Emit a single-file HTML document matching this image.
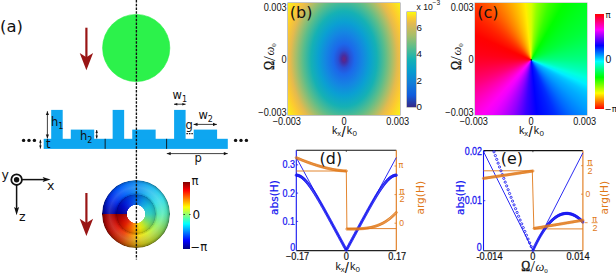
<!DOCTYPE html>
<html><head><meta charset="utf-8"><title>figure</title>
<style>
html,body{margin:0;padding:0;background:#fff}
#fig{position:relative;width:616px;height:274px;overflow:hidden;background:#fff}
#fig div{position:absolute}
#hb{left:288px;top:3px;width:112px;height:112px;background:radial-gradient(ellipse 70px 101.5px at 50% 50%, rgb(105,35,128) 0%, rgb(72,44,158) 3.57%, rgb(42,78,212) 8.57%, rgb(28,104,234) 15%, rgb(20,134,226) 26.43%, rgb(10,160,210) 36.43%, rgb(21,177,180) 47.14%, rgb(89,189,140) 58.57%, rgb(165,190,107) 68.57%, rgb(228,186,78) 76.43%, rgb(252,200,50) 84.29%, rgb(249,251,14) 100%);box-shadow:0 0 0 0.5px rgba(60,60,60,.6)}
#hc{left:475px;top:3px;width:112px;height:112px;background:conic-gradient(from 0deg at 50.2% 50.8%, rgb(214,255,0) 0deg, rgb(145,255,0) 6deg, rgb(98,255,0) 12deg, rgb(56,255,0) 18deg, rgb(29,255,0) 24deg, rgb(2,255,0) 30deg, rgb(0,255,11) 36deg, rgb(0,255,24) 42deg, rgb(0,255,35) 48deg, rgb(0,255,45) 54deg, rgb(0,255,55) 60deg, rgb(0,255,68) 66deg, rgb(0,255,83) 72deg, rgb(0,255,99) 78deg, rgb(0,255,114) 84deg, rgb(0,255,132) 90deg, rgb(0,255,159) 96deg, rgb(0,255,186) 102deg, rgb(0,255,224) 108deg, rgb(0,238,255) 114deg, rgb(0,199,255) 120deg, rgb(0,175,255) 126deg, rgb(0,156,255) 132deg, rgb(0,133,255) 138deg, rgb(0,108,255) 144deg, rgb(0,78,255) 150deg, rgb(0,47,255) 156deg, rgb(0,28,255) 162deg, rgb(0,14,255) 168deg, rgb(0,0,255) 174deg, rgb(29,0,255) 180deg, rgb(59,0,255) 186deg, rgb(103,0,255) 192deg, rgb(145,0,255) 198deg, rgb(179,0,255) 204deg, rgb(212,0,255) 210deg, rgb(239,0,255) 216deg, rgb(255,0,244) 222deg, rgb(255,0,217) 228deg, rgb(255,0,187) 234deg, rgb(255,0,157) 240deg, rgb(255,0,126) 246deg, rgb(255,0,100) 252deg, rgb(255,0,78) 258deg, rgb(255,0,56) 264deg, rgb(255,0,38) 270deg, rgb(255,0,23) 276deg, rgb(255,0,14) 282deg, rgb(255,0,6) 288deg, rgb(255,2,0) 294deg, rgb(255,16,0) 300deg, rgb(255,30,0) 306deg, rgb(255,48,0) 312deg, rgb(255,70,0) 318deg, rgb(255,96,0) 324deg, rgb(255,123,0) 330deg, rgb(255,150,0) 336deg, rgb(255,178,0) 342deg, rgb(255,206,0) 348deg, rgb(255,239,0) 354deg, rgb(214,255,0) 360deg);box-shadow:0 0 0 0.5px rgba(60,60,60,.4)}
#cbb{left:407.2px;top:12px;width:8.8px;height:95px;background:linear-gradient(to top, rgb(53,42,135) 0%, rgb(15,92,221) 12.5%, rgb(18,125,216) 25%, rgb(7,156,207) 37.5%, rgb(21,177,180) 50%, rgb(89,189,140) 62.5%, rgb(165,190,107) 75%, rgb(225,185,82) 87.5%, rgb(252,206,46) 94%, rgb(249,251,14) 100%);box-shadow:0 0 0 0.5px rgba(60,60,60,.6)}
#cbc{left:595px;top:14px;width:8.6px;height:95px;background:linear-gradient(to bottom, rgb(255,0,0) 0%, rgb(255,0,127) 8.33%, rgb(255,0,255) 16.67%, rgb(127,0,255) 25%, rgb(0,0,255) 33.33%, rgb(0,127,255) 41.67%, rgb(0,255,255) 50%, rgb(0,255,127) 58.33%, rgb(0,255,0) 66.67%, rgb(127,255,0) 75%, rgb(255,254,0) 83.33%, rgb(255,127,0) 91.67%, rgb(255,0,0) 100%)}
#cba{left:183.2px;top:182.3px;width:7px;height:66.6px;background:linear-gradient(to bottom, rgb(128,0,0) 0%, rgb(255,0,0) 12.5%, rgb(255,255,0) 37.5%, rgb(0,255,255) 62.5%, rgb(0,0,255) 87.5%, rgb(0,0,128) 100%)}
#tor{left:102.3px;top:180.2px;width:67.6px;height:67.6px;border-radius:50%;
 background:
  radial-gradient(circle 40px at 50% 40%, rgba(0,0,0,0) 70%, rgba(0,0,0,.28) 100%),
  radial-gradient(circle closest-side, rgba(0,0,0,0) 0%, rgba(0,0,0,0) 58%, rgba(0,0,0,.12) 60%, rgba(255,255,255,.03) 64%, rgba(255,255,255,.14) 78%, rgba(255,255,255,.02) 90%, rgba(0,0,0,.15) 96%, rgba(0,0,0,.4) 100%),
  conic-gradient(from 270deg at 50% 50%, rgb(0,0,160) 0deg, rgb(0,40,230) 30deg, rgb(0,95,250) 60deg, rgb(20,140,240) 90deg, rgb(35,185,240) 120deg, rgb(55,220,230) 150deg, rgb(85,235,185) 180deg, rgb(150,240,100) 210deg, rgb(215,240,45) 240deg, rgb(245,228,25) 260deg, rgb(252,190,15) 270deg, rgb(250,130,10) 285deg, rgb(240,70,10) 300deg, rgb(222,25,8) 322deg, rgb(190,8,5) 345deg, rgb(160,0,0) 360deg);
 -webkit-mask:radial-gradient(circle closest-side, transparent 26.6%, #000 28%);mask:radial-gradient(circle closest-side, transparent 26.6%, #000 28%)}
#tori{left:115.8px;top:193.7px;width:40.6px;height:40.6px;border-radius:50%;
 background:
  radial-gradient(circle closest-side, rgba(0,0,0,0) 0%, rgba(0,0,0,0) 45%, rgba(255,255,255,.06) 50%, rgba(0,0,0,.0) 75%, rgba(0,0,0,.10) 92%, rgba(0,0,0,.28) 100%),
  conic-gradient(from 270deg at 50% 50%, rgb(0,0,150) 0deg, rgb(0,10,200) 30deg, rgb(0,50,225) 60deg, rgb(0,95,225) 90deg, rgb(10,150,225) 120deg, rgb(25,190,215) 150deg, rgb(50,205,190) 180deg, rgb(110,220,110) 210deg, rgb(200,230,30) 240deg, rgb(240,225,10) 255deg, rgb(250,170,0) 270deg, rgb(245,100,0) 290deg, rgb(225,30,0) 315deg, rgb(190,5,0) 340deg, rgb(150,0,0) 360deg);
 -webkit-mask:radial-gradient(circle closest-side, transparent 44.5%, #000 47%);mask:radial-gradient(circle closest-side, transparent 44.5%, #000 47%)}
svg{position:absolute;left:0;top:0}
</style></head><body>
<div id="fig">
<div id="hb"></div><div id="hc"></div><div id="cbb"></div><div id="cbc"></div><div id="cba"></div><div id="tor"></div><div id="tori"></div>
<svg width="616" height="274" viewBox="0 0 616 274">
<circle cx="136.2" cy="48" r="33.6" fill="#2cf24b" stroke="#22ee40" stroke-width="0.6"/>
<line x1="86.4" y1="27.7" x2="86.4" y2="58.3" stroke="#991515" stroke-width="2.2"/>
<path d="M86.4 70.3 L79.7 53.1 L86.4 57.3 L93.1 53.1 Z" fill="#991515"/>
<line x1="86.4" y1="193" x2="86.4" y2="224" stroke="#991515" stroke-width="2.2"/>
<path d="M86.4 236 L79.7 218.8 L86.4 223 L93.1 218.8 Z" fill="#991515"/>
<rect x="43.7" y="138.8" width="184.1" height="10.1" fill="#0ea6f0"/>
<rect x="51.2" y="109.9" width="11.5" height="30" fill="#0ea6f0"/>
<rect x="70.8" y="129.6" width="23.4" height="10" fill="#0ea6f0"/>
<rect x="112.65" y="109.9" width="11.5" height="30" fill="#0ea6f0"/>
<rect x="132.25" y="129.6" width="23.4" height="10" fill="#0ea6f0"/>
<rect x="174.1" y="109.9" width="11.5" height="30" fill="#0ea6f0"/>
<rect x="193.7" y="129.6" width="23.4" height="10" fill="#0ea6f0"/>
<line x1="105.15" y1="138.8" x2="105.15" y2="148.9" stroke="#111" stroke-width="0.9"/>
<line x1="166.6" y1="138.8" x2="166.6" y2="148.9" stroke="#111" stroke-width="0.9"/>
<line x1="136.4" y1="0" x2="136.4" y2="259.6" stroke="#111" stroke-width="1.35" stroke-dasharray="2.4 1.35"/>
<line x1="47.4" y1="111.2" x2="47.4" y2="138.4" stroke="#111" stroke-width="0.8"/>
<path d="M47.4 111.2 L48.96 115.1 L45.84 115.1 Z" fill="#111"/>
<path d="M47.4 138.4 L45.84 134.5 L48.96 134.5 Z" fill="#111"/>
<line x1="96.7" y1="130" x2="96.7" y2="138.4" stroke="#111" stroke-width="0.8"/>
<path d="M96.7 130 L97.9 133 L95.5 133 Z" fill="#111"/>
<path d="M96.7 138.4 L95.5 135.4 L97.9 135.4 Z" fill="#111"/>
<line x1="40.4" y1="139.8" x2="40.4" y2="148.6" stroke="#111" stroke-width="0.8"/>
<path d="M40.4 139.8 L41.6 142.8 L39.2 142.8 Z" fill="#111"/>
<path d="M40.4 148.6 L39.2 145.6 L41.6 145.6 Z" fill="#111"/>
<line x1="174" y1="104.2" x2="185.6" y2="104.2" stroke="#111" stroke-width="0.8"/>
<path d="M174 104.2 L177.3 102.88 L177.3 105.52 Z" fill="#111"/>
<path d="M185.6 104.2 L182.3 105.52 L182.3 102.88 Z" fill="#111"/>
<line x1="193.6" y1="124.4" x2="216.9" y2="124.4" stroke="#111" stroke-width="0.8"/>
<path d="M193.6 124.4 L197.5 122.84 L197.5 125.96 Z" fill="#111"/>
<path d="M216.9 124.4 L213 125.96 L213 122.84 Z" fill="#111"/>
<line x1="166.8" y1="153.6" x2="227.7" y2="153.6" stroke="#111" stroke-width="0.8"/>
<path d="M166.8 153.6 L170.7 152.04 L170.7 155.16 Z" fill="#111"/>
<path d="M227.7 153.6 L223.8 155.16 L223.8 152.04 Z" fill="#111"/>
<line x1="186.4" y1="133.7" x2="192.8" y2="133.7" stroke="#111" stroke-width="1.3" stroke-dasharray="1.5 1.0"/>
<circle cx="23.6" cy="140.4" r="1.7" fill="#111"/>
<circle cx="29" cy="140.4" r="1.7" fill="#111"/>
<circle cx="34.4" cy="140.4" r="1.7" fill="#111"/>
<circle cx="235.6" cy="140.4" r="1.7" fill="#111"/>
<circle cx="241" cy="140.4" r="1.7" fill="#111"/>
<circle cx="246.4" cy="140.4" r="1.7" fill="#111"/>
<text x="0" y="32.2" style="font-family:'DejaVu Sans','Liberation Sans',sans-serif;font-size:16.4px" fill="#111" text-anchor="start">(a)</text>
<text x="51" y="125.8" style="font-family:'DejaVu Sans','Liberation Sans',sans-serif;font-size:11.5px" fill="#111" text-anchor="start">h<tspan dy="3" style="font-size:8px">1</tspan></text>
<text x="80" y="140.4" style="font-family:'DejaVu Sans','Liberation Sans',sans-serif;font-size:11.5px" fill="#111" text-anchor="start">h<tspan dy="3" style="font-size:8px">2</tspan></text>
<text x="46" y="148.4" style="font-family:'DejaVu Sans','Liberation Sans',sans-serif;font-size:11.5px" fill="#111" text-anchor="start">t</text>
<text x="172.6" y="99.4" style="font-family:'DejaVu Sans','Liberation Sans',sans-serif;font-size:11.5px" fill="#111" text-anchor="start">w<tspan dy="3" style="font-size:8px">1</tspan></text>
<text x="198.4" y="118.9" style="font-family:'DejaVu Sans','Liberation Sans',sans-serif;font-size:11.5px" fill="#111" text-anchor="start">w<tspan dy="3" style="font-size:8px">2</tspan></text>
<text x="185.6" y="128.6" style="font-family:'DejaVu Sans','Liberation Sans',sans-serif;font-size:11.5px" fill="#111" text-anchor="start">g</text>
<text x="194.6" y="162" style="font-family:'DejaVu Sans','Liberation Sans',sans-serif;font-size:11.5px" fill="#111" text-anchor="start">p</text>
<circle cx="16.6" cy="179.7" r="5.3" fill="none" stroke="#111" stroke-width="1.8"/>
<circle cx="16.6" cy="179.7" r="2.7" fill="#111"/>
<line x1="22" y1="179.6" x2="46" y2="179.6" stroke="#111" stroke-width="1.5"/>
<path d="M50.6 179.6 L42.6 177.1 L44.2 179.6 L42.6 182.1 Z" fill="#111"/>
<line x1="16.6" y1="185" x2="16.6" y2="210" stroke="#111" stroke-width="1.5"/>
<path d="M16.6 215.2 L14.1 207 L16.6 208.6 L19.1 207 Z" fill="#111"/>
<text x="1.6" y="179" style="font-family:'DejaVu Sans','Liberation Sans',sans-serif;font-size:12.5px" fill="#111" text-anchor="start">y</text>
<text x="47" y="190" style="font-family:'DejaVu Sans','Liberation Sans',sans-serif;font-size:12.5px" fill="#111" text-anchor="start">x</text>
<text x="19" y="221.3" style="font-family:'DejaVu Sans','Liberation Sans',sans-serif;font-size:12.5px" fill="#111" text-anchor="start">z</text>
<text x="191.6" y="185" style="font-family:'DejaVu Sans','Liberation Sans',sans-serif;font-size:11.5px" fill="#111" text-anchor="start">π</text>
<text x="192.6" y="219.3" style="font-family:'DejaVu Sans','Liberation Sans',sans-serif;font-size:12px" fill="#111" text-anchor="start">0</text>
<text x="190.6" y="250.6" style="font-family:'DejaVu Sans','Liberation Sans',sans-serif;font-size:11.5px" fill="#111" text-anchor="start">−π</text>
<line x1="183.4" y1="214.5" x2="185" y2="214.5" stroke="#222" stroke-width="0.8"/>
<line x1="189" y1="214.5" x2="190.6" y2="214.5" stroke="#222" stroke-width="0.8"/>
<text transform="translate(286.6,10.7) scale(0.9,1)" style="font-family:'Liberation Sans',sans-serif;font-size:10.2px" fill="#111" text-anchor="end">0.003</text>
<text transform="translate(286.6,62.7) scale(0.9,1)" style="font-family:'Liberation Sans',sans-serif;font-size:10.2px" fill="#111" text-anchor="end">0</text>
<text transform="translate(286.6,115.6) scale(0.9,1)" style="font-family:'Liberation Sans',sans-serif;font-size:10.2px" fill="#111" text-anchor="end">−0.003</text>
<text transform="translate(286.8,124.5) scale(0.9,1)" style="font-family:'Liberation Sans',sans-serif;font-size:10.2px" fill="#111" text-anchor="middle">−0.003</text>
<text transform="translate(344.1,124.5) scale(0.9,1)" style="font-family:'Liberation Sans',sans-serif;font-size:10.2px" fill="#111" text-anchor="middle">0</text>
<text transform="translate(397.7,124.5) scale(0.9,1)" style="font-family:'Liberation Sans',sans-serif;font-size:10.2px" fill="#111" text-anchor="middle">0.003</text>
<text transform="translate(332,133.9) scale(0.95,1)" style="font-family:'Liberation Sans',sans-serif;font-size:11.3px" fill="#111" text-anchor="start">k</text>
<text x="337.3" y="136" style="font-family:'Liberation Sans',sans-serif;font-size:7.6px" fill="#111" text-anchor="start">x</text>
<text x="341.5" y="136.5" style="font-family:'Liberation Sans',sans-serif;font-size:15px" fill="#111" text-anchor="start">/</text>
<text transform="translate(346.8,133.9) scale(0.95,1)" style="font-family:'Liberation Sans',sans-serif;font-size:11.3px" fill="#111" text-anchor="start">k</text>
<text x="352.6" y="136.2" style="font-family:'Liberation Sans',sans-serif;font-size:8px" fill="#111" text-anchor="start">0</text>
<text transform="translate(273.6,69.9) rotate(-90)" style="font-family:'Liberation Serif',serif;font-size:14px" fill="#111"><tspan textLength="9" lengthAdjust="spacingAndGlyphs" stroke="#111" stroke-width="0.35">Ω</tspan><tspan style="font-size:17px" dy="1.6">/</tspan><tspan style="font-style:italic;font-size:12.5px" dy="-1.2" dx="0.6">ω</tspan><tspan dy="1.8" style="font-size:7px">0</tspan></text>
<text transform="translate(473.6,10.7) scale(0.9,1)" style="font-family:'Liberation Sans',sans-serif;font-size:10.2px" fill="#111" text-anchor="end">0.003</text>
<text transform="translate(473.6,62.7) scale(0.9,1)" style="font-family:'Liberation Sans',sans-serif;font-size:10.2px" fill="#111" text-anchor="end">0</text>
<text transform="translate(473.6,115.6) scale(0.9,1)" style="font-family:'Liberation Sans',sans-serif;font-size:10.2px" fill="#111" text-anchor="end">−0.003</text>
<text transform="translate(473.8,124.5) scale(0.9,1)" style="font-family:'Liberation Sans',sans-serif;font-size:10.2px" fill="#111" text-anchor="middle">−0.003</text>
<text transform="translate(531.1,124.5) scale(0.9,1)" style="font-family:'Liberation Sans',sans-serif;font-size:10.2px" fill="#111" text-anchor="middle">0</text>
<text transform="translate(584.7,124.5) scale(0.9,1)" style="font-family:'Liberation Sans',sans-serif;font-size:10.2px" fill="#111" text-anchor="middle">0.003</text>
<text transform="translate(519,133.9) scale(0.95,1)" style="font-family:'Liberation Sans',sans-serif;font-size:11.3px" fill="#111" text-anchor="start">k</text>
<text x="524.3" y="136" style="font-family:'Liberation Sans',sans-serif;font-size:7.6px" fill="#111" text-anchor="start">x</text>
<text x="528.5" y="136.5" style="font-family:'Liberation Sans',sans-serif;font-size:15px" fill="#111" text-anchor="start">/</text>
<text transform="translate(533.8,133.9) scale(0.95,1)" style="font-family:'Liberation Sans',sans-serif;font-size:11.3px" fill="#111" text-anchor="start">k</text>
<text x="539.6" y="136.2" style="font-family:'Liberation Sans',sans-serif;font-size:8px" fill="#111" text-anchor="start">0</text>
<text transform="translate(460.6,69.9) rotate(-90)" style="font-family:'Liberation Serif',serif;font-size:14px" fill="#111"><tspan textLength="9" lengthAdjust="spacingAndGlyphs" stroke="#111" stroke-width="0.35">Ω</tspan><tspan style="font-size:17px" dy="1.6">/</tspan><tspan style="font-style:italic;font-size:12.5px" dy="-1.2" dx="0.6">ω</tspan><tspan dy="1.8" style="font-size:7px">0</tspan></text>
<circle cx="531.3" cy="59.9" r="0.9" fill="#222"/>
<text x="289.8" y="18.3" style="font-family:'DejaVu Sans','Liberation Sans',sans-serif;font-size:16.1px" fill="#111" text-anchor="start">(b)</text>
<text x="477.2" y="18.3" style="font-family:'DejaVu Sans','Liberation Sans',sans-serif;font-size:16.1px" fill="#111" text-anchor="start">(c)</text>
<text x="416.6" y="9.6" style="font-family:'Liberation Sans',sans-serif;font-size:8.6px" fill="#111" text-anchor="start">x 10</text>
<text x="432.6" y="5.1" style="font-family:'Liberation Sans',sans-serif;font-size:6.6px" fill="#111" text-anchor="start">−3</text>
<text x="416.6" y="30.6" style="font-family:'Liberation Sans',sans-serif;font-size:9.8px" fill="#111" text-anchor="start">6</text>
<text x="416.6" y="57.2" style="font-family:'Liberation Sans',sans-serif;font-size:9.8px" fill="#111" text-anchor="start">4</text>
<text x="416.6" y="83.8" style="font-family:'Liberation Sans',sans-serif;font-size:9.8px" fill="#111" text-anchor="start">2</text>
<text x="416.6" y="110.4" style="font-family:'Liberation Sans',sans-serif;font-size:9.8px" fill="#111" text-anchor="start">0</text>
<text x="605.6" y="17.8" style="font-family:'DejaVu Sans','Liberation Sans',sans-serif;font-size:8.5px" fill="#111" text-anchor="start">π</text>
<text x="605.6" y="62.9" style="font-family:'Liberation Sans',sans-serif;font-size:10.4px" fill="#111" text-anchor="start">0</text>
<text x="604.6" y="112.2" style="font-family:'DejaVu Sans','Liberation Sans',sans-serif;font-size:8.5px" fill="#111" text-anchor="start">−π</text>
<line x1="296.3" y1="150.3" x2="396.3" y2="150.3" stroke="#111" stroke-width="1.1"/>
<line x1="296.3" y1="250.6" x2="396.3" y2="250.6" stroke="#222" stroke-width="1.1"/>
<line x1="296.3" y1="150.3" x2="296.3" y2="250.6" stroke="#1414f0" stroke-width="1.1"/>
<line x1="396.3" y1="150.3" x2="396.3" y2="250.6" stroke="#e07818" stroke-width="1.1"/>
<line x1="346.3" y1="150.3" x2="346.3" y2="151.9" stroke="#222" stroke-width="0.8"/>
<path d="M296.3 157.5 L346.3 250.2 L396.3 157.5" fill="none" stroke="#1414f0" stroke-width="0.9"/>
<path d="M296.3 171 L346.3 171 L346.9 228.6 L396.3 228.6" fill="none" stroke="#e07818" stroke-width="0.9"/>
<g fill="none" stroke="#1414f0" stroke-width="0.75">
<circle cx="296.3" cy="175.2" r="1.15"/>
<circle cx="296.97" cy="175.23" r="1.15"/>
<circle cx="297.63" cy="175.33" r="1.15"/>
<circle cx="298.3" cy="175.5" r="1.15"/>
<circle cx="298.97" cy="175.72" r="1.15"/>
<circle cx="299.63" cy="176.01" r="1.15"/>
<circle cx="300.3" cy="176.35" r="1.15"/>
<circle cx="300.97" cy="176.74" r="1.15"/>
<circle cx="301.63" cy="177.19" r="1.15"/>
<circle cx="302.3" cy="177.69" r="1.15"/>
<circle cx="302.97" cy="178.23" r="1.15"/>
<circle cx="303.63" cy="178.82" r="1.15"/>
<circle cx="304.3" cy="179.45" r="1.15"/>
<circle cx="304.97" cy="180.11" r="1.15"/>
<circle cx="305.63" cy="180.82" r="1.15"/>
<circle cx="306.3" cy="181.56" r="1.15"/>
<circle cx="306.97" cy="182.34" r="1.15"/>
<circle cx="307.63" cy="183.15" r="1.15"/>
<circle cx="308.3" cy="183.99" r="1.15"/>
<circle cx="308.97" cy="184.85" r="1.15"/>
<circle cx="309.63" cy="185.75" r="1.15"/>
<circle cx="310.3" cy="186.67" r="1.15"/>
<circle cx="310.97" cy="187.61" r="1.15"/>
<circle cx="311.63" cy="188.58" r="1.15"/>
<circle cx="312.3" cy="189.57" r="1.15"/>
<circle cx="312.97" cy="190.57" r="1.15"/>
<circle cx="313.63" cy="191.6" r="1.15"/>
<circle cx="314.3" cy="192.64" r="1.15"/>
<circle cx="314.97" cy="193.7" r="1.15"/>
<circle cx="315.63" cy="194.78" r="1.15"/>
<circle cx="316.3" cy="195.87" r="1.15"/>
<circle cx="316.97" cy="196.97" r="1.15"/>
<circle cx="317.63" cy="198.08" r="1.15"/>
<circle cx="318.3" cy="199.21" r="1.15"/>
<circle cx="318.97" cy="200.35" r="1.15"/>
<circle cx="319.63" cy="201.49" r="1.15"/>
<circle cx="320.3" cy="202.65" r="1.15"/>
<circle cx="320.97" cy="203.81" r="1.15"/>
<circle cx="321.63" cy="204.98" r="1.15"/>
<circle cx="322.3" cy="206.16" r="1.15"/>
<circle cx="322.97" cy="207.34" r="1.15"/>
<circle cx="323.63" cy="208.53" r="1.15"/>
<circle cx="324.3" cy="209.73" r="1.15"/>
<circle cx="324.97" cy="210.92" r="1.15"/>
<circle cx="325.63" cy="212.13" r="1.15"/>
<circle cx="326.3" cy="213.34" r="1.15"/>
<circle cx="326.97" cy="214.55" r="1.15"/>
<circle cx="327.63" cy="215.76" r="1.15"/>
<circle cx="328.3" cy="216.98" r="1.15"/>
<circle cx="328.97" cy="218.2" r="1.15"/>
<circle cx="329.63" cy="219.42" r="1.15"/>
<circle cx="330.3" cy="220.64" r="1.15"/>
<circle cx="330.97" cy="221.87" r="1.15"/>
<circle cx="331.63" cy="223.09" r="1.15"/>
<circle cx="332.3" cy="224.32" r="1.15"/>
<circle cx="332.97" cy="225.55" r="1.15"/>
<circle cx="333.63" cy="226.78" r="1.15"/>
<circle cx="334.3" cy="228.01" r="1.15"/>
<circle cx="334.97" cy="229.24" r="1.15"/>
<circle cx="335.63" cy="230.47" r="1.15"/>
<circle cx="336.3" cy="231.7" r="1.15"/>
<circle cx="336.97" cy="232.94" r="1.15"/>
<circle cx="337.63" cy="234.17" r="1.15"/>
<circle cx="338.3" cy="235.4" r="1.15"/>
<circle cx="338.97" cy="236.63" r="1.15"/>
<circle cx="339.63" cy="237.87" r="1.15"/>
<circle cx="340.3" cy="239.1" r="1.15"/>
<circle cx="340.97" cy="240.33" r="1.15"/>
<circle cx="341.63" cy="241.57" r="1.15"/>
<circle cx="342.3" cy="242.8" r="1.15"/>
<circle cx="342.97" cy="244.03" r="1.15"/>
<circle cx="343.63" cy="245.27" r="1.15"/>
<circle cx="344.3" cy="246.5" r="1.15"/>
<circle cx="344.97" cy="247.73" r="1.15"/>
<circle cx="345.63" cy="248.97" r="1.15"/>
<circle cx="346.3" cy="250.2" r="1.15"/>
<circle cx="346.97" cy="248.97" r="1.15"/>
<circle cx="347.63" cy="247.73" r="1.15"/>
<circle cx="348.3" cy="246.5" r="1.15"/>
<circle cx="348.97" cy="245.27" r="1.15"/>
<circle cx="349.63" cy="244.03" r="1.15"/>
<circle cx="350.3" cy="242.8" r="1.15"/>
<circle cx="350.97" cy="241.57" r="1.15"/>
<circle cx="351.63" cy="240.33" r="1.15"/>
<circle cx="352.3" cy="239.1" r="1.15"/>
<circle cx="352.97" cy="237.87" r="1.15"/>
<circle cx="353.63" cy="236.63" r="1.15"/>
<circle cx="354.3" cy="235.4" r="1.15"/>
<circle cx="354.97" cy="234.17" r="1.15"/>
<circle cx="355.63" cy="232.94" r="1.15"/>
<circle cx="356.3" cy="231.7" r="1.15"/>
<circle cx="356.97" cy="230.47" r="1.15"/>
<circle cx="357.63" cy="229.24" r="1.15"/>
<circle cx="358.3" cy="228.01" r="1.15"/>
<circle cx="358.97" cy="226.78" r="1.15"/>
<circle cx="359.63" cy="225.55" r="1.15"/>
<circle cx="360.3" cy="224.32" r="1.15"/>
<circle cx="360.97" cy="223.09" r="1.15"/>
<circle cx="361.63" cy="221.87" r="1.15"/>
<circle cx="362.3" cy="220.64" r="1.15"/>
<circle cx="362.97" cy="219.42" r="1.15"/>
<circle cx="363.63" cy="218.2" r="1.15"/>
<circle cx="364.3" cy="216.98" r="1.15"/>
<circle cx="364.97" cy="215.76" r="1.15"/>
<circle cx="365.63" cy="214.55" r="1.15"/>
<circle cx="366.3" cy="213.34" r="1.15"/>
<circle cx="366.97" cy="212.13" r="1.15"/>
<circle cx="367.63" cy="210.92" r="1.15"/>
<circle cx="368.3" cy="209.73" r="1.15"/>
<circle cx="368.97" cy="208.53" r="1.15"/>
<circle cx="369.63" cy="207.34" r="1.15"/>
<circle cx="370.3" cy="206.16" r="1.15"/>
<circle cx="370.97" cy="204.98" r="1.15"/>
<circle cx="371.63" cy="203.81" r="1.15"/>
<circle cx="372.3" cy="202.65" r="1.15"/>
<circle cx="372.97" cy="201.49" r="1.15"/>
<circle cx="373.63" cy="200.35" r="1.15"/>
<circle cx="374.3" cy="199.21" r="1.15"/>
<circle cx="374.97" cy="198.08" r="1.15"/>
<circle cx="375.63" cy="196.97" r="1.15"/>
<circle cx="376.3" cy="195.87" r="1.15"/>
<circle cx="376.97" cy="194.78" r="1.15"/>
<circle cx="377.63" cy="193.7" r="1.15"/>
<circle cx="378.3" cy="192.64" r="1.15"/>
<circle cx="378.97" cy="191.6" r="1.15"/>
<circle cx="379.63" cy="190.57" r="1.15"/>
<circle cx="380.3" cy="189.57" r="1.15"/>
<circle cx="380.97" cy="188.58" r="1.15"/>
<circle cx="381.63" cy="187.61" r="1.15"/>
<circle cx="382.3" cy="186.67" r="1.15"/>
<circle cx="382.97" cy="185.75" r="1.15"/>
<circle cx="383.63" cy="184.85" r="1.15"/>
<circle cx="384.3" cy="183.99" r="1.15"/>
<circle cx="384.97" cy="183.15" r="1.15"/>
<circle cx="385.63" cy="182.34" r="1.15"/>
<circle cx="386.3" cy="181.56" r="1.15"/>
<circle cx="386.97" cy="180.82" r="1.15"/>
<circle cx="387.63" cy="180.11" r="1.15"/>
<circle cx="388.3" cy="179.45" r="1.15"/>
<circle cx="388.97" cy="178.82" r="1.15"/>
<circle cx="389.63" cy="178.23" r="1.15"/>
<circle cx="390.3" cy="177.69" r="1.15"/>
<circle cx="390.97" cy="177.19" r="1.15"/>
<circle cx="391.63" cy="176.74" r="1.15"/>
<circle cx="392.3" cy="176.35" r="1.15"/>
<circle cx="392.97" cy="176.01" r="1.15"/>
<circle cx="393.63" cy="175.72" r="1.15"/>
<circle cx="394.3" cy="175.5" r="1.15"/>
<circle cx="394.97" cy="175.33" r="1.15"/>
<circle cx="395.63" cy="175.23" r="1.15"/>
<circle cx="396.3" cy="175.2" r="1.15"/>
</g>
<g fill="none" stroke="#e07818" stroke-width="0.78">
<circle cx="296.3" cy="157.7" r="1.08"/>
<circle cx="297.41" cy="158.18" r="1.08"/>
<circle cx="298.52" cy="158.64" r="1.08"/>
<circle cx="299.63" cy="159.11" r="1.08"/>
<circle cx="300.74" cy="159.56" r="1.08"/>
<circle cx="301.86" cy="160.01" r="1.08"/>
<circle cx="302.97" cy="160.45" r="1.08"/>
<circle cx="304.08" cy="160.89" r="1.08"/>
<circle cx="305.19" cy="161.31" r="1.08"/>
<circle cx="306.3" cy="161.73" r="1.08"/>
<circle cx="307.41" cy="162.15" r="1.08"/>
<circle cx="308.52" cy="162.55" r="1.08"/>
<circle cx="309.63" cy="162.95" r="1.08"/>
<circle cx="310.74" cy="163.34" r="1.08"/>
<circle cx="311.86" cy="163.73" r="1.08"/>
<circle cx="312.97" cy="164.1" r="1.08"/>
<circle cx="314.08" cy="164.47" r="1.08"/>
<circle cx="315.19" cy="164.83" r="1.08"/>
<circle cx="316.3" cy="165.19" r="1.08"/>
<circle cx="317.41" cy="165.53" r="1.08"/>
<circle cx="318.52" cy="165.87" r="1.08"/>
<circle cx="319.63" cy="166.2" r="1.08"/>
<circle cx="320.74" cy="166.52" r="1.08"/>
<circle cx="321.86" cy="166.83" r="1.08"/>
<circle cx="322.97" cy="167.13" r="1.08"/>
<circle cx="324.08" cy="167.42" r="1.08"/>
<circle cx="325.19" cy="167.71" r="1.08"/>
<circle cx="326.3" cy="167.99" r="1.08"/>
<circle cx="327.41" cy="168.25" r="1.08"/>
<circle cx="328.52" cy="168.51" r="1.08"/>
<circle cx="329.63" cy="168.76" r="1.08"/>
<circle cx="330.74" cy="168.99" r="1.08"/>
<circle cx="331.86" cy="169.22" r="1.08"/>
<circle cx="332.97" cy="169.44" r="1.08"/>
<circle cx="334.08" cy="169.64" r="1.08"/>
<circle cx="335.19" cy="169.84" r="1.08"/>
<circle cx="336.3" cy="170.02" r="1.08"/>
<circle cx="337.41" cy="170.19" r="1.08"/>
<circle cx="338.52" cy="170.35" r="1.08"/>
<circle cx="339.63" cy="170.49" r="1.08"/>
<circle cx="340.74" cy="170.62" r="1.08"/>
<circle cx="341.86" cy="170.74" r="1.08"/>
<circle cx="342.97" cy="170.83" r="1.08"/>
<circle cx="344.08" cy="170.91" r="1.08"/>
<circle cx="345.19" cy="170.97" r="1.08"/>
<circle cx="346.3" cy="171" r="1.08"/>
<circle cx="346.9" cy="229" r="1.08"/>
<circle cx="348" cy="229" r="1.08"/>
<circle cx="349.1" cy="229" r="1.08"/>
<circle cx="350.19" cy="229" r="1.08"/>
<circle cx="351.29" cy="228.99" r="1.08"/>
<circle cx="352.39" cy="228.98" r="1.08"/>
<circle cx="353.49" cy="228.97" r="1.08"/>
<circle cx="354.58" cy="228.96" r="1.08"/>
<circle cx="355.68" cy="228.93" r="1.08"/>
<circle cx="356.78" cy="228.9" r="1.08"/>
<circle cx="357.88" cy="228.87" r="1.08"/>
<circle cx="358.98" cy="228.82" r="1.08"/>
<circle cx="360.07" cy="228.77" r="1.08"/>
<circle cx="361.17" cy="228.7" r="1.08"/>
<circle cx="362.27" cy="228.62" r="1.08"/>
<circle cx="363.37" cy="228.52" r="1.08"/>
<circle cx="364.46" cy="228.42" r="1.08"/>
<circle cx="365.56" cy="228.29" r="1.08"/>
<circle cx="366.66" cy="228.15" r="1.08"/>
<circle cx="367.76" cy="227.99" r="1.08"/>
<circle cx="368.86" cy="227.81" r="1.08"/>
<circle cx="369.95" cy="227.6" r="1.08"/>
<circle cx="371.05" cy="227.38" r="1.08"/>
<circle cx="372.15" cy="227.13" r="1.08"/>
<circle cx="373.25" cy="226.85" r="1.08"/>
<circle cx="374.34" cy="226.55" r="1.08"/>
<circle cx="375.44" cy="226.22" r="1.08"/>
<circle cx="376.54" cy="225.86" r="1.08"/>
<circle cx="377.64" cy="225.47" r="1.08"/>
<circle cx="378.74" cy="225.04" r="1.08"/>
<circle cx="379.83" cy="224.58" r="1.08"/>
<circle cx="380.93" cy="224.09" r="1.08"/>
<circle cx="382.03" cy="223.56" r="1.08"/>
<circle cx="383.13" cy="222.99" r="1.08"/>
<circle cx="384.22" cy="222.37" r="1.08"/>
<circle cx="385.32" cy="221.72" r="1.08"/>
<circle cx="386.42" cy="221.02" r="1.08"/>
<circle cx="387.52" cy="220.28" r="1.08"/>
<circle cx="388.62" cy="219.49" r="1.08"/>
<circle cx="389.71" cy="218.65" r="1.08"/>
<circle cx="390.81" cy="217.76" r="1.08"/>
<circle cx="391.91" cy="216.82" r="1.08"/>
<circle cx="393.01" cy="215.82" r="1.08"/>
<circle cx="394.1" cy="214.77" r="1.08"/>
<circle cx="395.2" cy="213.67" r="1.08"/>
<circle cx="396.3" cy="212.5" r="1.08"/>
</g>
<line x1="296.3" y1="164.8" x2="298.1" y2="164.8" stroke="#1414f0" stroke-width="0.8"/>
<text transform="translate(295,168.3) scale(0.9,1)" style="font-family:'Liberation Sans',sans-serif;font-size:10px" fill="#1414f0" text-anchor="end" stroke="#1414f0" stroke-width="0.25">0.3</text>
<line x1="296.3" y1="193.1" x2="298.1" y2="193.1" stroke="#1414f0" stroke-width="0.8"/>
<text transform="translate(295,196.6) scale(0.9,1)" style="font-family:'Liberation Sans',sans-serif;font-size:10px" fill="#1414f0" text-anchor="end" stroke="#1414f0" stroke-width="0.25">0.2</text>
<line x1="296.3" y1="221.4" x2="298.1" y2="221.4" stroke="#1414f0" stroke-width="0.8"/>
<text transform="translate(295,224.9) scale(0.9,1)" style="font-family:'Liberation Sans',sans-serif;font-size:10px" fill="#1414f0" text-anchor="end" stroke="#1414f0" stroke-width="0.25">0.1</text>
<text transform="translate(295.2,251) scale(0.9,1)" style="font-family:'Liberation Sans',sans-serif;font-size:10px" fill="#1414f0" text-anchor="end" stroke="#1414f0" stroke-width="0.25">0</text>
<line x1="394.5" y1="166" x2="396.3" y2="166" stroke="#e07818" stroke-width="0.8"/>
<line x1="394.5" y1="194.6" x2="396.3" y2="194.6" stroke="#e07818" stroke-width="0.8"/>
<line x1="394.5" y1="223.2" x2="396.3" y2="223.2" stroke="#e07818" stroke-width="0.8"/>
<text x="398.4" y="168.2" style="font-family:'DejaVu Sans','Liberation Sans',sans-serif;font-size:8px" fill="#e07818" text-anchor="start">π</text>
<text x="399.2" y="226.2" style="font-family:'Liberation Sans',sans-serif;font-size:8.6px" fill="#e07818" text-anchor="start">0</text>
<text x="399.4" y="193.5" style="font-family:'DejaVu Sans','Liberation Sans',sans-serif;font-size:8px" fill="#e07818" text-anchor="start">π</text>
<line x1="398.8" y1="194.4" x2="404.8" y2="194.4" stroke="#e07818" stroke-width="0.8"/>
<text x="399.6" y="202.4" style="font-family:'Liberation Sans',sans-serif;font-size:9px" fill="#e07818" text-anchor="start">2</text>
<text transform="translate(278.2,215) rotate(-90)" style="font-family:'DejaVu Sans','Liberation Sans',sans-serif;font-size:10.6px" fill="#1414f0" stroke="#1414f0" stroke-width="0.2">abs(H)</text>
<text transform="translate(424.2,214.6) rotate(-90)" style="font-family:'DejaVu Sans','Liberation Sans',sans-serif;font-size:10.6px" fill="#e07818">arg(H)</text>
<text transform="translate(297.6,259.8) scale(0.92,1)" style="font-family:'Liberation Sans',sans-serif;font-size:10px" fill="#111" text-anchor="middle" stroke="#111" stroke-width="0.2">−0.17</text>
<text transform="translate(346.2,259.8) scale(0.92,1)" style="font-family:'Liberation Sans',sans-serif;font-size:10px" fill="#111" text-anchor="middle" stroke="#111" stroke-width="0.2">0</text>
<text transform="translate(397.2,259.8) scale(0.92,1)" style="font-family:'Liberation Sans',sans-serif;font-size:10px" fill="#111" text-anchor="middle" stroke="#111" stroke-width="0.2">0.17</text>
<text transform="translate(335.6,270) scale(0.95,1)" style="font-family:'Liberation Sans',sans-serif;font-size:11.3px" fill="#111" text-anchor="start">k</text>
<text x="340.74" y="272.1" style="font-family:'Liberation Sans',sans-serif;font-size:7.6px" fill="#111" text-anchor="start">x</text>
<text x="344.81" y="272.6" style="font-family:'Liberation Sans',sans-serif;font-size:15px" fill="#111" text-anchor="start">/</text>
<text transform="translate(349.96,270) scale(0.95,1)" style="font-family:'Liberation Sans',sans-serif;font-size:11.3px" fill="#111" text-anchor="start">k</text>
<text x="355.58" y="272.3" style="font-family:'Liberation Sans',sans-serif;font-size:8px" fill="#111" text-anchor="start">0</text>
<text x="319.6" y="163.6" style="font-family:'DejaVu Sans','Liberation Sans',sans-serif;font-size:15.9px" fill="#111" text-anchor="start">(d)</text>
<line x1="483.5" y1="150.6" x2="582.9" y2="150.6" stroke="#111" stroke-width="1.1"/>
<line x1="483.5" y1="250.8" x2="582.9" y2="250.8" stroke="#222" stroke-width="1.1"/>
<line x1="483.5" y1="150.6" x2="483.5" y2="250.8" stroke="#1414f0" stroke-width="1.1"/>
<line x1="582.9" y1="150.6" x2="582.9" y2="250.8" stroke="#e07818" stroke-width="1.1"/>
<line x1="532.9" y1="150.6" x2="532.9" y2="152.2" stroke="#222" stroke-width="0.8"/>
<path d="M483.5 151.5 L532.9 250.4 L582.9 152.8" fill="none" stroke="#1414f0" stroke-width="0.9"/>
<path d="M483.5 170.8 L532.3 170.8 L533.9 228.9 L582.9 228.9" fill="none" stroke="#e07818" stroke-width="0.9"/>
<g fill="none" stroke="#1414f0" stroke-width="0.85">
<circle cx="493.98" cy="151.8" r="1.1"/>
<circle cx="495.36" cy="155.59" r="1.1"/>
<circle cx="496.74" cy="159.38" r="1.1"/>
<circle cx="498.13" cy="163.18" r="1.1"/>
<circle cx="499.53" cy="166.97" r="1.1"/>
<circle cx="500.94" cy="170.76" r="1.1"/>
<circle cx="502.36" cy="174.55" r="1.1"/>
<circle cx="503.78" cy="178.35" r="1.1"/>
<circle cx="505.22" cy="182.14" r="1.1"/>
<circle cx="506.67" cy="185.93" r="1.1"/>
<circle cx="508.12" cy="189.72" r="1.1"/>
<circle cx="509.59" cy="193.52" r="1.1"/>
<circle cx="511.06" cy="197.31" r="1.1"/>
<circle cx="512.55" cy="201.1" r="1.1"/>
<circle cx="514.04" cy="204.89" r="1.1"/>
<circle cx="515.55" cy="208.68" r="1.1"/>
<circle cx="517.07" cy="212.48" r="1.1"/>
<circle cx="518.59" cy="216.27" r="1.1"/>
<circle cx="520.13" cy="220.06" r="1.1"/>
<circle cx="521.69" cy="223.85" r="1.1"/>
<circle cx="523.25" cy="227.65" r="1.1"/>
<circle cx="524.83" cy="231.44" r="1.1"/>
<circle cx="526.41" cy="235.23" r="1.1"/>
<circle cx="528.02" cy="239.02" r="1.1"/>
<circle cx="529.63" cy="242.82" r="1.1"/>
<circle cx="531.26" cy="246.61" r="1.1"/>
<circle cx="532.9" cy="250.4" r="1.1"/>
</g>
<g fill="none" stroke="#1414f0" stroke-width="0.7">
<circle cx="533.46" cy="249.18" r="1.1"/>
<circle cx="534.02" cy="247.97" r="1.1"/>
<circle cx="534.59" cy="246.79" r="1.1"/>
<circle cx="535.15" cy="245.63" r="1.1"/>
<circle cx="535.71" cy="244.49" r="1.1"/>
<circle cx="536.27" cy="243.37" r="1.1"/>
<circle cx="536.83" cy="242.27" r="1.1"/>
<circle cx="537.39" cy="241.19" r="1.1"/>
<circle cx="537.96" cy="240.13" r="1.1"/>
<circle cx="538.52" cy="239.09" r="1.1"/>
<circle cx="539.08" cy="238.07" r="1.1"/>
<circle cx="539.64" cy="237.08" r="1.1"/>
<circle cx="540.2" cy="236.1" r="1.1"/>
<circle cx="540.77" cy="235.14" r="1.1"/>
<circle cx="541.33" cy="234.21" r="1.1"/>
<circle cx="541.89" cy="233.29" r="1.1"/>
<circle cx="542.45" cy="232.4" r="1.1"/>
<circle cx="543.01" cy="231.52" r="1.1"/>
<circle cx="543.57" cy="230.67" r="1.1"/>
<circle cx="544.14" cy="229.84" r="1.1"/>
<circle cx="544.7" cy="229.03" r="1.1"/>
<circle cx="545.26" cy="228.24" r="1.1"/>
<circle cx="545.82" cy="227.46" r="1.1"/>
<circle cx="546.38" cy="226.71" r="1.1"/>
<circle cx="546.94" cy="225.98" r="1.1"/>
<circle cx="547.51" cy="225.27" r="1.1"/>
<circle cx="548.07" cy="224.59" r="1.1"/>
<circle cx="548.63" cy="223.92" r="1.1"/>
<circle cx="549.19" cy="223.27" r="1.1"/>
<circle cx="549.75" cy="222.64" r="1.1"/>
<circle cx="550.32" cy="222.04" r="1.1"/>
<circle cx="550.88" cy="221.45" r="1.1"/>
<circle cx="551.44" cy="220.89" r="1.1"/>
<circle cx="552" cy="220.34" r="1.1"/>
<circle cx="552.56" cy="219.82" r="1.1"/>
<circle cx="553.12" cy="219.31" r="1.1"/>
<circle cx="553.69" cy="218.83" r="1.1"/>
<circle cx="554.25" cy="218.37" r="1.1"/>
<circle cx="554.81" cy="217.93" r="1.1"/>
<circle cx="555.37" cy="217.5" r="1.1"/>
<circle cx="555.93" cy="217.1" r="1.1"/>
<circle cx="556.5" cy="216.72" r="1.1"/>
<circle cx="557.06" cy="216.36" r="1.1"/>
<circle cx="557.62" cy="216.02" r="1.1"/>
<circle cx="558.18" cy="215.71" r="1.1"/>
<circle cx="558.74" cy="215.41" r="1.1"/>
<circle cx="559.3" cy="215.13" r="1.1"/>
<circle cx="559.87" cy="214.87" r="1.1"/>
<circle cx="560.43" cy="214.64" r="1.1"/>
<circle cx="560.99" cy="214.42" r="1.1"/>
<circle cx="561.55" cy="214.23" r="1.1"/>
<circle cx="562.11" cy="214.05" r="1.1"/>
<circle cx="562.68" cy="213.9" r="1.1"/>
<circle cx="563.24" cy="213.76" r="1.1"/>
<circle cx="563.8" cy="213.65" r="1.1"/>
<circle cx="564.36" cy="213.56" r="1.1"/>
<circle cx="564.92" cy="213.49" r="1.1"/>
<circle cx="565.48" cy="213.44" r="1.1"/>
<circle cx="566.05" cy="213.41" r="1.1"/>
<circle cx="566.61" cy="213.4" r="1.1"/>
<circle cx="567.17" cy="213.41" r="1.1"/>
<circle cx="567.73" cy="213.44" r="1.1"/>
<circle cx="568.29" cy="213.49" r="1.1"/>
<circle cx="568.86" cy="213.56" r="1.1"/>
<circle cx="569.42" cy="213.65" r="1.1"/>
<circle cx="569.98" cy="213.77" r="1.1"/>
<circle cx="570.54" cy="213.9" r="1.1"/>
<circle cx="571.1" cy="214.06" r="1.1"/>
<circle cx="571.66" cy="214.23" r="1.1"/>
<circle cx="572.23" cy="214.43" r="1.1"/>
<circle cx="572.79" cy="214.64" r="1.1"/>
<circle cx="573.35" cy="214.88" r="1.1"/>
<circle cx="573.91" cy="215.14" r="1.1"/>
<circle cx="574.47" cy="215.41" r="1.1"/>
<circle cx="575.03" cy="215.71" r="1.1"/>
<circle cx="575.6" cy="216.03" r="1.1"/>
<circle cx="576.16" cy="216.37" r="1.1"/>
<circle cx="576.72" cy="216.73" r="1.1"/>
<circle cx="577.28" cy="217.11" r="1.1"/>
<circle cx="577.84" cy="217.51" r="1.1"/>
<circle cx="578.41" cy="217.94" r="1.1"/>
<circle cx="578.97" cy="218.38" r="1.1"/>
<circle cx="579.53" cy="218.84" r="1.1"/>
<circle cx="580.09" cy="219.32" r="1.1"/>
<circle cx="580.65" cy="219.83" r="1.1"/>
<circle cx="581.21" cy="220.35" r="1.1"/>
<circle cx="581.78" cy="220.9" r="1.1"/>
<circle cx="582.34" cy="221.46" r="1.1"/>
<circle cx="582.9" cy="222.05" r="1.1"/>
</g>
<g fill="none" stroke="#e07818" stroke-width="0.78">
<circle cx="483.5" cy="178.4" r="1.08"/>
<circle cx="484.6" cy="178.24" r="1.08"/>
<circle cx="485.7" cy="178.07" r="1.08"/>
<circle cx="486.79" cy="177.91" r="1.08"/>
<circle cx="487.89" cy="177.74" r="1.08"/>
<circle cx="488.99" cy="177.58" r="1.08"/>
<circle cx="490.09" cy="177.41" r="1.08"/>
<circle cx="491.18" cy="177.25" r="1.08"/>
<circle cx="492.28" cy="177.08" r="1.08"/>
<circle cx="493.38" cy="176.92" r="1.08"/>
<circle cx="494.48" cy="176.76" r="1.08"/>
<circle cx="495.58" cy="176.59" r="1.08"/>
<circle cx="496.67" cy="176.43" r="1.08"/>
<circle cx="497.77" cy="176.26" r="1.08"/>
<circle cx="498.87" cy="176.1" r="1.08"/>
<circle cx="499.97" cy="175.93" r="1.08"/>
<circle cx="501.06" cy="175.77" r="1.08"/>
<circle cx="502.16" cy="175.6" r="1.08"/>
<circle cx="503.26" cy="175.44" r="1.08"/>
<circle cx="504.36" cy="175.28" r="1.08"/>
<circle cx="505.46" cy="175.11" r="1.08"/>
<circle cx="506.55" cy="174.95" r="1.08"/>
<circle cx="507.65" cy="174.78" r="1.08"/>
<circle cx="508.75" cy="174.62" r="1.08"/>
<circle cx="509.85" cy="174.45" r="1.08"/>
<circle cx="510.94" cy="174.29" r="1.08"/>
<circle cx="512.04" cy="174.12" r="1.08"/>
<circle cx="513.14" cy="173.96" r="1.08"/>
<circle cx="514.24" cy="173.8" r="1.08"/>
<circle cx="515.34" cy="173.63" r="1.08"/>
<circle cx="516.43" cy="173.47" r="1.08"/>
<circle cx="517.53" cy="173.3" r="1.08"/>
<circle cx="518.63" cy="173.14" r="1.08"/>
<circle cx="519.73" cy="172.97" r="1.08"/>
<circle cx="520.82" cy="172.81" r="1.08"/>
<circle cx="521.92" cy="172.64" r="1.08"/>
<circle cx="523.02" cy="172.48" r="1.08"/>
<circle cx="524.12" cy="172.32" r="1.08"/>
<circle cx="525.22" cy="172.15" r="1.08"/>
<circle cx="526.31" cy="171.99" r="1.08"/>
<circle cx="527.41" cy="171.82" r="1.08"/>
<circle cx="528.51" cy="171.66" r="1.08"/>
<circle cx="529.61" cy="171.49" r="1.08"/>
<circle cx="530.7" cy="171.33" r="1.08"/>
<circle cx="531.8" cy="171.16" r="1.08"/>
<circle cx="532.9" cy="171" r="1.08"/>
<circle cx="534.2" cy="228.4" r="1.08"/>
<circle cx="535.33" cy="228.21" r="1.08"/>
<circle cx="536.47" cy="228.02" r="1.08"/>
<circle cx="537.6" cy="227.83" r="1.08"/>
<circle cx="538.73" cy="227.64" r="1.08"/>
<circle cx="539.86" cy="227.45" r="1.08"/>
<circle cx="541" cy="227.26" r="1.08"/>
<circle cx="542.13" cy="227.07" r="1.08"/>
<circle cx="543.26" cy="226.87" r="1.08"/>
<circle cx="544.39" cy="226.68" r="1.08"/>
<circle cx="545.53" cy="226.49" r="1.08"/>
<circle cx="546.66" cy="226.3" r="1.08"/>
<circle cx="547.79" cy="226.11" r="1.08"/>
<circle cx="548.92" cy="225.92" r="1.08"/>
<circle cx="550.06" cy="225.73" r="1.08"/>
<circle cx="551.19" cy="225.54" r="1.08"/>
<circle cx="552.32" cy="225.35" r="1.08"/>
<circle cx="553.45" cy="225.16" r="1.08"/>
<circle cx="554.59" cy="224.97" r="1.08"/>
<circle cx="555.72" cy="224.78" r="1.08"/>
<circle cx="556.85" cy="224.59" r="1.08"/>
<circle cx="557.98" cy="224.4" r="1.08"/>
<circle cx="559.12" cy="224.2" r="1.08"/>
<circle cx="560.25" cy="224.01" r="1.08"/>
<circle cx="561.38" cy="223.82" r="1.08"/>
<circle cx="562.51" cy="223.63" r="1.08"/>
<circle cx="563.65" cy="223.44" r="1.08"/>
<circle cx="564.78" cy="223.25" r="1.08"/>
<circle cx="565.91" cy="223.06" r="1.08"/>
<circle cx="567.04" cy="222.87" r="1.08"/>
<circle cx="568.18" cy="222.68" r="1.08"/>
<circle cx="569.31" cy="222.49" r="1.08"/>
<circle cx="570.44" cy="222.3" r="1.08"/>
<circle cx="571.57" cy="222.11" r="1.08"/>
<circle cx="572.71" cy="221.92" r="1.08"/>
<circle cx="573.84" cy="221.73" r="1.08"/>
<circle cx="574.97" cy="221.53" r="1.08"/>
<circle cx="576.1" cy="221.34" r="1.08"/>
<circle cx="577.24" cy="221.15" r="1.08"/>
<circle cx="578.37" cy="220.96" r="1.08"/>
<circle cx="579.5" cy="220.77" r="1.08"/>
<circle cx="580.63" cy="220.58" r="1.08"/>
<circle cx="581.77" cy="220.39" r="1.08"/>
<circle cx="582.9" cy="220.2" r="1.08"/>
</g>
<line x1="483.5" y1="151.4" x2="485.3" y2="151.4" stroke="#1414f0" stroke-width="0.8"/>
<text transform="translate(482,154.9) scale(0.89,1)" style="font-family:'Liberation Sans',sans-serif;font-size:10px" fill="#1414f0" text-anchor="end" stroke="#1414f0" stroke-width="0.25">0.02</text>
<line x1="483.5" y1="200.7" x2="485.3" y2="200.7" stroke="#1414f0" stroke-width="0.8"/>
<text transform="translate(482,204.2) scale(0.89,1)" style="font-family:'Liberation Sans',sans-serif;font-size:10px" fill="#1414f0" text-anchor="end" stroke="#1414f0" stroke-width="0.25">0.01</text>
<text transform="translate(481.6,251) scale(0.89,1)" style="font-family:'Liberation Sans',sans-serif;font-size:10px" fill="#1414f0" text-anchor="end" stroke="#1414f0" stroke-width="0.25">0</text>
<line x1="581.1" y1="165.7" x2="582.9" y2="165.7" stroke="#e07818" stroke-width="0.8"/>
<line x1="581.1" y1="194.2" x2="582.9" y2="194.2" stroke="#e07818" stroke-width="0.8"/>
<line x1="581.1" y1="222.7" x2="582.9" y2="222.7" stroke="#e07818" stroke-width="0.8"/>
<text x="587.4" y="164.7" style="font-family:'DejaVu Sans','Liberation Sans',sans-serif;font-size:8px" fill="#e07818" text-anchor="start">π</text>
<line x1="586.8" y1="165.6" x2="592.8" y2="165.6" stroke="#e07818" stroke-width="0.8"/>
<text x="587.6" y="173.6" style="font-family:'Liberation Sans',sans-serif;font-size:9px" fill="#e07818" text-anchor="start">2</text>
<text x="585.4" y="197.4" style="font-family:'Liberation Sans',sans-serif;font-size:8.6px" fill="#e07818" text-anchor="start">0</text>
<text x="592.2" y="221.8" style="font-family:'DejaVu Sans','Liberation Sans',sans-serif;font-size:8px" fill="#e07818" text-anchor="start">π</text>
<line x1="591.6" y1="222.7" x2="597.6" y2="222.7" stroke="#e07818" stroke-width="0.8"/>
<text x="592.4" y="230.7" style="font-family:'Liberation Sans',sans-serif;font-size:9px" fill="#e07818" text-anchor="start">2</text>
<line x1="584.8" y1="222.7" x2="587.6" y2="222.7" stroke="#e07818" stroke-width="0.8"/>
<text transform="translate(464.2,215) rotate(-90)" style="font-family:'DejaVu Sans','Liberation Sans',sans-serif;font-size:10.6px" fill="#1414f0" stroke="#1414f0" stroke-width="0.2">abs(H)</text>
<text transform="translate(607.6,214.4) rotate(-90)" style="font-family:'DejaVu Sans','Liberation Sans',sans-serif;font-size:10.6px" fill="#e07818">arg(H)</text>
<text transform="translate(489.5,259.8) scale(0.92,1)" style="font-family:'Liberation Sans',sans-serif;font-size:10px" fill="#111" text-anchor="middle" stroke="#111" stroke-width="0.2">-0.014</text>
<text transform="translate(532.9,259.8) scale(0.92,1)" style="font-family:'Liberation Sans',sans-serif;font-size:10px" fill="#111" text-anchor="middle" stroke="#111" stroke-width="0.2">0</text>
<text transform="translate(578,259.8) scale(0.92,1)" style="font-family:'Liberation Sans',sans-serif;font-size:10px" fill="#111" text-anchor="middle" stroke="#111" stroke-width="0.2">0.014</text>
<text transform="translate(521.2,270.6) rotate(0)" style="font-family:'Liberation Serif',serif;font-size:14px" fill="#111"><tspan textLength="9" lengthAdjust="spacingAndGlyphs" stroke="#111" stroke-width="0.35">Ω</tspan><tspan style="font-size:17px" dy="1.6">/</tspan><tspan style="font-style:italic;font-size:12.5px" dy="-1.2" dx="0.6">ω</tspan><tspan dy="1.8" style="font-size:7px">0</tspan></text>
<text x="500.8" y="164" style="font-family:'DejaVu Sans','Liberation Sans',sans-serif;font-size:15.9px" fill="#111" text-anchor="start">(e)</text>
</svg>
</div>
</body></html>
